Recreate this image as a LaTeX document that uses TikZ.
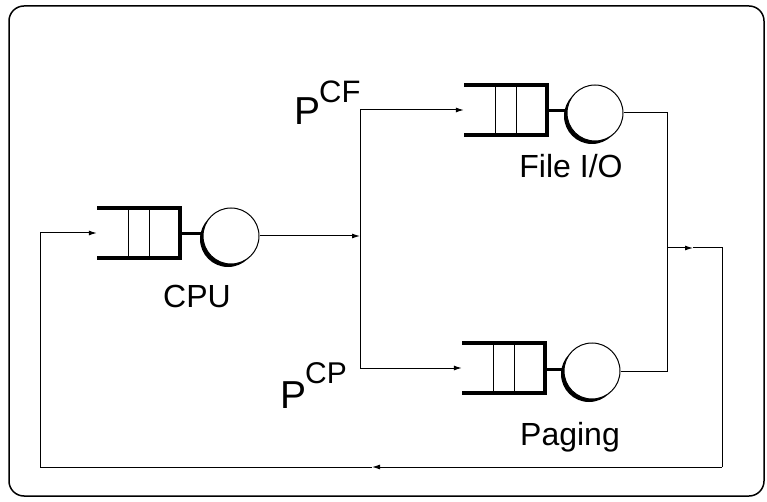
\documentclass[tikz,border=0pt]{standalone}
\usepackage{fontspec}
\setmainfont{Liberation Sans}
\usetikzlibrary{arrows.meta}
\newcommand\qstation[4]{% name, x0, cy, circle x offset
  \node[minimum width=83bp,minimum height=50bp,inner sep=0] (#1q) at (#2+41.5,#3) {};
  \draw[qline] (#2,#3-25) -- (#2+83,#3-25) -- (#2+83,#3+25) -- (#2,#3+25);
  \draw[divline] (#2+31,#3-25) -- (#2+31,#3+25);
  \draw[divline] (#2+52,#3-25) -- (#2+52,#3+25);
  \node[shad] (#1s) at (#2+#4-3,#3+6) {};
  \node[srv] (#1c) at (#2+#4,#3+3) {};
  \draw[line width=3bp] (#2+83,#3+1) -- (#1c.west |- {0,#3+1});
}
\begin{document}
\begin{tikzpicture}[x=1bp,y=-1bp,
  conn/.style={line width=1bp},
  arr/.style={conn,-{Latex[length=8bp,width=5bp]}},
  qline/.style={line width=3.5bp,line join=miter},
  divline/.style={line width=0.9bp},
  srv/.style={circle,draw,line width=1bp,fill=white,minimum size=56bp,inner sep=0},
  shad/.style={circle,fill=black,minimum size=56bp,inner sep=0},
  lab/.style={font=\fontsize{32bp}{38bp}\selectfont,inner sep=0,anchor=base},
  plab/.style={inner sep=0,anchor=base west},
]
\useasboundingbox (0,0) rectangle (767,502);
\draw[line width=1.5bp,rounded corners=15bp] (9,6) rectangle (764,496);

\qstation{cpu}{97}{233}{134}
\qstation{file}{464}{110}{131}
\qstation{pag}{462}{368}{130}

\node[lab] (cpul) at (197,307) {CPU};
\node[lab] (filel) at (571,178) {File I/O};
\node[lab] (pagl) at (570,445) {Paging};
\node[plab] (pcf) at (294,125) {{\fontsize{39bp}{40bp}\selectfont P}\kern-1bp\raisebox{22bp}{\fontsize{31bp}{31bp}\selectfont CF}};
\node[plab] (pcp) at (280,408) {{\fontsize{39bp}{40bp}\selectfont P}\kern-1bp\raisebox{25bp}{\fontsize{30bp}{30bp}\selectfont CP}};

\coordinate (jc) at (360,236);
\coordinate (jt) at (360,110);
\coordinate (jb) at (360,368);
\coordinate (rm) at (667,248);
\coordinate (ra) at (693,248);
\coordinate (rr) at (722,248);
\coordinate (br) at (722,467);
\coordinate (bm) at (372,467);
\coordinate (bl) at (40,467);

\draw[arr] (cpuc.east) -- (jc);
\draw[conn] (jt) -- (jb);
\draw[arr] (jt) -- (fileq.west);
\draw[arr] (jb) -- (pagq.west);
\draw[conn] (filec.east) -| (rm);
\draw[conn] (pagc.east) -| (rm);
\draw[arr] (rm) -- (ra);
\draw[conn] (ra) -- (rr) -- (br);
\draw[arr] (br) -- (bm);
\draw[arr] (bm) -- (bl) |- (cpuq.west);
\end{tikzpicture}
\end{document}
